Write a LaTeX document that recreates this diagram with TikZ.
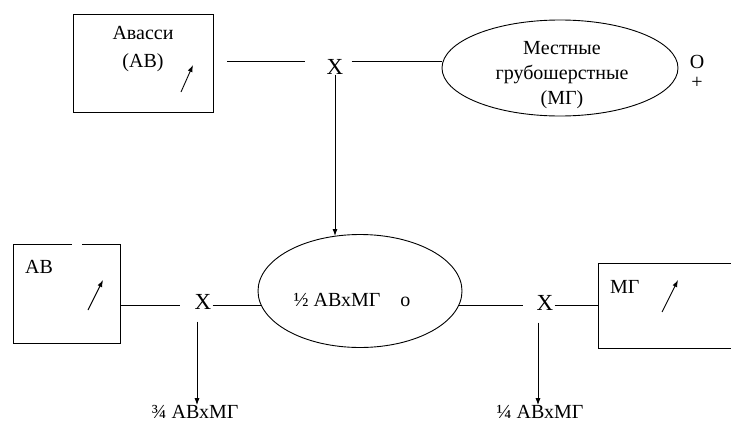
\documentclass[tikz,border=0pt]{standalone}
\usepackage{fontspec}
\setmainfont{Liberation Serif}
\usetikzlibrary{shapes.geometric,arrows.meta}
\begin{document}
\begin{tikzpicture}[x=1pt,y=-1pt,
  every node/.style={font=\fontsize{20}{25}\selectfont, inner sep=0pt},
  cross/.style={font=\fontsize{23}{25}\selectfont},
  line/.style={draw=black, line width=0.9pt},
  arr/.style={line, -{Latex[length=7pt,width=5pt]}},
  ell/.style={ellipse, draw, line width=0.9pt},
  box/.style={rectangle, draw, line width=0.9pt},
]
\useasboundingbox (0,0) rectangle (731,423);
% top row
\node[box, minimum width=140pt, minimum height=98pt] (boxA) at (143,63) {};
\node (tA1) at (143,33) {Авасси};
\node (tA2) at (143,63) {(АВ)};
\draw[arr] (181,92) -- (193,65);
\node[cross] (x1) at (335,67) {X};
\node[ell, minimum width=236pt, minimum height=96pt] (e1) at (560,68) {};
\node[align=center] (t1) at (562,75) {Местные\\грубошерстные\\(МГ)};
\node (o1) at (697,62) {O};
\node (p1) at (697,83) {+};
\draw[line] ([xshift=14pt]boxA.east |- 0,61) -- ([xshift=-21pt]x1.west |- 0,61);
\draw[line] ([xshift=8pt]x1.east |- 0,61) -- (e1.west |- 0,61);
% middle ellipse
\node[ell, minimum width=204pt, minimum height=113pt] (e2) at (360,291) {};
\node (t2) at (352,300) {½ АВхМГ\hspace{1em}о};
\draw[arr] (x1.south) -- (x1.south |- 0,236);
% bottom left
\node[box, minimum width=107pt, minimum height=99pt] (box2) at (66.5,293.5) {};
\draw[white, line width=2pt] (72,244) -- (82,244);
\node[anchor=west] (t3) at (25,267) {АВ};
\draw[arr] (88,310) -- (103,280);
\node[cross] (x2) at (203,302) {X};
\draw[line] (box2.east |- e2.188) -- ([xshift=-14pt]x2.west |- e2.188);
\draw[line] ([xshift=1pt]x2.east |- e2.188) -- (e2.188);
\node (lab1) at (195,412) {¾ АВхМГ};
\draw[arr, shorten <=12pt] ([xshift=-6pt]x2.south) -- ([xshift=-6pt]x2.south |- lab1.north);
% bottom right
\node[minimum width=132pt, minimum height=84pt] (box3) at (665,306) {};
\draw[line] (box3.north east) -- (box3.north west) -- (box3.south west) -- (box3.south east);
\node[anchor=west] (t4) at (610,287) {МГ};
\draw[arr] (662,312) -- (678,280);
\node[cross] (x3) at (545,303) {X};
\draw[line] (e2.-8) -- ([xshift=-14pt]x3.west |- e2.-8);
\draw[line] ([xshift=1pt]x3.east |- e2.-8) -- (box3.west |- e2.-8);
\node (lab2) at (540,412) {¼ АВхМГ};
\draw[arr, shorten <=12pt] ([xshift=-7pt]x3.south) -- ([xshift=-7pt]x3.south |- lab2.north);
\end{tikzpicture}
\end{document}
